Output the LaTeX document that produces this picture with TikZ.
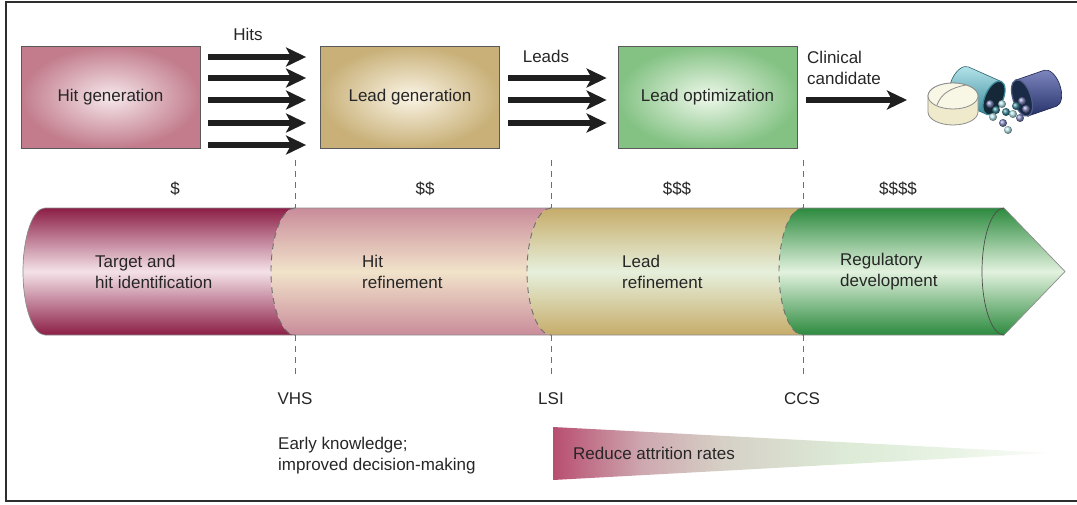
\documentclass[tikz,border=0pt]{standalone}
\usepackage{fontspec}
\setmainfont{Liberation Sans}
\usetikzlibrary{arrows.meta}

\definecolor{ink}{HTML}{262626}
\definecolor{frame}{HTML}{2E2E2E}
\definecolor{guidegray}{HTML}{6E6E6E}
% stage boxes
\definecolor{hitpink}{HTML}{C27C8C}
\definecolor{hitpinkin}{HTML}{F6E8EC}
\definecolor{leadtan}{HTML}{C8B078}
\definecolor{leadtanin}{HTML}{FBF5E6}
\definecolor{optgreen}{HTML}{84C284}
\definecolor{optgreenin}{HTML}{EEF8EA}
% pipeline cylinder
\definecolor{segAedge}{HTML}{8C1E46}
\definecolor{segAmid}{HTML}{F4E2E8}
\definecolor{segBedge}{HTML}{C98C9A}
\definecolor{segBmid}{HTML}{F1E3CA}
\definecolor{segCedge}{HTML}{C6AC6A}
\definecolor{segCmid}{HTML}{E6F0DC}
\definecolor{segDedge}{HTML}{2C8A3E}
\definecolor{segDmid}{HTML}{E2F2DE}
% pills
\definecolor{tabletside}{HTML}{EEEACB}
\definecolor{tablettop}{HTML}{F8F6E4}
\definecolor{tealhi}{HTML}{B8E6EC}
\definecolor{tealdk}{HTML}{3A8A9A}
\definecolor{navyhi}{HTML}{8088C0}
\definecolor{navydk}{HTML}{26326A}
\definecolor{mouth}{HTML}{142838}

% attrition wedge: pink fading through grey-green to white
\pgfdeclarehorizontalshading{attritionfade}{100bp}{%
  color(0bp)=(rgb,255:red,184;green,78;blue,112);
  color(25bp)=(rgb,255:red,184;green,78;blue,112);
  color(34bp)=(rgb,255:red,206;green,168;blue,176);
  color(42bp)=(rgb,255:red,214;green,208;blue,198);
  color(54bp)=(rgb,255:red,220;green,234;blue,214);
  color(66bp)=(rgb,255:red,234;green,244;blue,230);
  color(75bp)=(rgb,255:red,252;green,253;blue,250);
  color(100bp)=(rgb,255:red,252;green,253;blue,250)}

\tikzset{
  stagebox/.style={draw=black!65, line width=0.8pt, minimum width=179pt,
    minimum height=102pt, inner sep=0pt, text=ink},
  fatarrow/.style={draw=black!88, line width=5.5pt,
    -{Stealth[length=20pt,width=19pt,inset=5pt]}},
  guide/.style={draw=guidegray, line width=0.9pt, dash pattern=on 6pt off 5pt},
  label/.style={text=ink, inner sep=0pt},
  cyltext/.style={label, anchor=west, align=left},
  bead/.style={shading=ball, ball color=#1},
}

\begin{document}
\begin{tikzpicture}[x=1pt, y=-1pt, font=\fontsize{17}{21}\selectfont]
\useasboundingbox (0,0) rectangle (1077,504);

% outer frame (open on the right)
\draw[frame, line width=2pt] (1077,1.5) -- (6,1.5) -- (6,501) -- (1077,501);

% ---------- stage boxes ----------
\node[stagebox, inner color=hitpinkin, outer color=hitpink] (hitgen) at (110.5,97) {Hit generation};
\node[stagebox, inner color=leadtanin, outer color=leadtan] (leadgen) at (410,97) {Lead generation};
\node[stagebox, inner color=optgreenin, outer color=optgreen] (leadopt) at (707.5,97) {Lead optimization};
\coordinate (drug) at (917,100);

% ---------- arrows between stages ----------
\foreach \yy in {57,78,100,123,145}
  \draw[fatarrow, shorten <=8pt, shorten >=14pt] (hitgen.east |- 0,\yy) -- (leadgen.west |- 0,\yy);
\foreach \yy in {78,100,123}
  \draw[fatarrow, shorten <=8pt, shorten >=11pt] (leadgen.east |- 0,\yy) -- (leadopt.west |- 0,\yy);
\draw[fatarrow, shorten <=9pt, shorten >=10pt] (leadopt.east |- 0,100) -- (drug);

\node[label] (hits) at (248,34) {Hits};
\node[label] (leads) at (546,56) {Leads};
\node[cyltext] (clin) at (807,68) {Clinical\\candidate};

% ---------- pills ----------
% teal capsule half
\begin{scope}[shift={(994,98)}, rotate=-24]
  \shade[top color=tealhi, bottom color=tealdk, draw=tealdk!70!black, line width=0.6pt]
    (-36,-18) arc[start angle=90, end angle=270, x radius=10pt, y radius=18pt]
    -- (0,18) -- (0,-18) -- cycle;
  \filldraw[fill=mouth, draw=tealdk, line width=1.2pt] (0,0) ellipse[x radius=9pt, y radius=18pt];
\end{scope}
% tablet
\filldraw[fill=tabletside, draw=black!45, line width=0.8pt]
  (928,96) -- (928,112) arc[start angle=180, end angle=360, x radius=25pt, y radius=13pt]
  -- (978,96) arc[start angle=0, end angle=180, x radius=25pt, y radius=13pt] -- cycle;
\filldraw[fill=tablettop, draw=black!45, line width=0.8pt] (953,96) ellipse[x radius=25pt, y radius=13pt];
\draw[black!45, line width=0.8pt] (937,105) .. controls (941,94) and (950,88) .. (966,85);
% navy capsule half
\begin{scope}[shift={(1022,98)}, rotate=19]
  \shade[top color=navyhi, bottom color=navydk, draw=navydk!70!black, line width=0.6pt]
    (0,-19) -- (30,-19) arc[start angle=90, end angle=-90, x radius=10pt, y radius=19pt]
    -- (0,19) -- cycle;
  \filldraw[fill=mouth!70!navydk, draw=navydk!80!white, line width=1.2pt] (0,0) ellipse[x radius=9pt, y radius=19pt];
\end{scope}
% spilled beads
\foreach \bx/\by/\bc in {990/104/navyhi, 996/110/tealdk, 1002/104/tealhi, 1006/112/tealdk,
    993/117/tealhi, 1013/114/tealhi, 1020/118/navyhi, 1026/109/navyhi, 1022/101/navyhi,
    1016/106/tealdk, 1003/123/navyhi, 1008/130/tealhi}
  \shade[bead=\bc] (\bx,\by) circle[radius=4pt];

% ---------- costs ----------
\node[label] (c1) at (175,189) {\$};
\node[label] (c2) at (425,189) {\$\$};
\node[label] (c3) at (677,189) {\$\$\$};
\node[label] (c4) at (898,189) {\$\$\$\$};

% ---------- pipeline cylinder ----------
\shade[top color=segAedge, bottom color=segAedge, middle color=segAmid]
  (45,208) arc[start angle=90, end angle=270, x radius=22pt, y radius=63.5pt]
  -- (295,335) arc[start angle=270, end angle=90, x radius=24pt, y radius=63.5pt] -- cycle;
\shade[top color=segBedge, bottom color=segBedge, middle color=segBmid]
  (295,208) arc[start angle=90, end angle=270, x radius=24pt, y radius=63.5pt]
  -- (551,335) arc[start angle=270, end angle=90, x radius=24pt, y radius=63.5pt] -- cycle;
\shade[top color=segCedge, bottom color=segCedge, middle color=segCmid]
  (551,208) arc[start angle=90, end angle=270, x radius=24pt, y radius=63.5pt]
  -- (803,335) arc[start angle=270, end angle=90, x radius=24pt, y radius=63.5pt] -- cycle;
\shade[top color=segDedge, bottom color=segDedge, middle color=segDmid]
  (803,208) arc[start angle=90, end angle=270, x radius=24pt, y radius=63.5pt]
  -- (1004,335) -- (1065,271.5) -- (1004,208) -- cycle;
% outline
\draw[black!45, line width=0.7pt]
  (1004,208) -- (45,208) arc[start angle=90, end angle=270, x radius=22pt, y radius=63.5pt]
  -- (1004,335) -- (1065,271.5) -- cycle;
\draw[black!70, line width=0.7pt]
  (1004,335) arc[start angle=270, end angle=90, x radius=22pt, y radius=63.5pt];
% stage boundaries
\foreach \bx in {295,551,803}
  \draw[guide] (\bx,208) arc[start angle=90, end angle=270, x radius=24pt, y radius=63.5pt];

\node[cyltext] (s1) at (95,272) {Target and\\hit identification};
\node[cyltext] (s2) at (362,272) {Hit\\refinement};
\node[cyltext] (s3) at (622,272) {Lead\\refinement};
\node[cyltext] (s4) at (840,272) {Regulatory\\development};

% ---------- milestones ----------
\node[label] (vhs) at (295,399) {VHS};
\node[label] (lsi) at (551,399) {LSI};
\node[label] (ccs) at (802,399) {CCS};
\foreach \bx in {295,551,803} {
  \draw[guide] (\bx,160) -- (\bx,208);
  \draw[guide] (\bx,335) -- (\bx,378);
}

% ---------- bottom notes ----------
\node[cyltext] (early) at (278,456) {Early knowledge;\\improved decision-making};
\shade[shading=attritionfade] (553,427) -- (1051,453) -- (553,480) -- cycle;
\node[label, anchor=west] (attr) at (573,453) {Reduce attrition rates};
\end{tikzpicture}
\end{document}
